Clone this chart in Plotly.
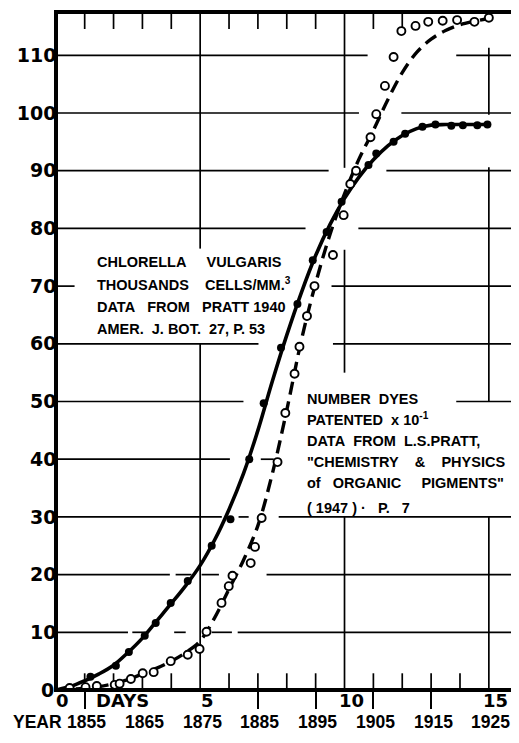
import plotly.graph_objects as go

# chlorella growth (filled dots, solid curve) - x in days, y in thousands cells/mm3
chl_day = [1.2, 2.08, 2.53, 3.08, 3.46, 3.98, 4.57, 5.4, 6.05, 6.7, 7.2, 7.8, 8.37, 8.9,
           9.38, 9.9, 10.83, 11.1, 11.7, 12.1, 12.7, 13.15, 13.7, 14.1, 14.6, 14.95]
chl_val = [2.3, 4.2, 6.6, 9.4, 11.6, 15.1, 18.9, 25, 29.6, 40, 49.7, 59.3, 66.9, 74.5,
           79.4, 84.6, 91, 93, 95, 96.4, 97.6, 98, 97.8, 97.9, 97.9, 98]
chl_curve_day = [0, 0.5, 1, 1.5, 2, 2.5, 3, 3.5, 4, 4.5, 5, 5.5, 6, 6.5, 7, 7.5, 8, 8.5,
                 9, 9.5, 10, 10.5, 11, 11.5, 12, 12.5, 13, 13.5, 14, 14.5, 15]
chl_curve_val = [0, 0.6, 1.6, 2.8, 4.3, 6.5, 9.0, 12.0, 15.0, 18.1, 21.6, 26.0, 31.3, 37.5,
                 45.0, 53.5, 61.5, 68.8, 75.3, 80.7, 85.2, 88.9, 91.9, 94.3, 96.1, 97.3,
                 97.9, 98, 98, 98, 98]

# dyes patented x 1/10 (open circles, dashed curve)
dye_day = [0.48, 1.03, 1.42, 2.04, 2.21, 2.6, 3.01, 3.39, 3.98, 4.57, 4.98, 5.22, 5.74,
           5.99, 6.12, 6.75, 6.9, 7.13, 7.68, 7.95, 8.27, 8.44, 8.7, 8.96, 9.6, 9.97,
           10.2, 10.4, 10.9, 11.1, 11.4, 11.7, 11.97, 12.46, 12.9, 13.4, 13.9, 14.5, 15.0]
dye_val = [0.35, 0.5, 0.7, 0.9, 1.1, 1.9, 2.9, 3.1, 5.0, 6.1, 7.1, 10.1, 15.1, 18.0, 19.8,
           22, 24.8, 29.8, 39.5, 48, 54.8, 59.5, 64.8, 70, 75.4, 82.3, 87.7, 90, 95.8,
           99.8, 104.7, 109.7, 114.2, 115.1, 115.8, 116, 116.1, 115.8, 116.5]
dye_curve_day = [0, 0.5, 1, 1.5, 2, 2.5, 3, 3.5, 4, 4.5, 5, 5.5, 6, 6.5, 7, 7.5, 8, 8.5,
                 9, 9.5, 10, 10.5, 11, 11.5, 12, 12.5, 13, 13.5, 14, 14.5, 14.9]
dye_curve_val = [0, 0.1, 0.3, 0.6, 1.1, 1.8, 2.8, 3.8, 5.0, 6.5, 8.5, 12.5, 17.5, 22.5,
                 28.5, 37.5, 48.5, 60.5, 70.5, 79, 86, 92, 97, 102.3, 107, 110.5, 112.8,
                 114.3, 115.3, 115.9, 116.3]

y_ticks = list(range(10, 120, 10))
day_labels = {0: "0", 5: "5", 10: "10", 15: "15"}
year_days = [1, 3, 5, 7, 9, 11, 13, 15]
year_labels = ["1855", "1865", "1875", "1885", "1895", "1905", "1915", "1925"]

# axis ranges: the heavy frame lines sit centred on day 0 / value 0
X0, X1 = 0.076, 15.94
Y0, Y1 = 0.35, 117.16
INK = "black"


def px(d):
    return (d - X0) / (X1 - X0)


def py(v):
    return (v - Y0) / (Y1 - Y0)


# gridline pieces, broken where the hand drawing left gaps
h_grid = {
    110: [(0, 10.8), (13.87, X1)],
    100: [(0, 10.5), (11.97, X1)],
    90: [(0, 9.45), (11.45, X1)],
    80: [(0, 8.65), (10.48, X1)],
    70: [(0, 0.65), (9.55, X1)],
    60: [(0, 7.02), (9.6, X1)],
    50: [(0, 6.5), (13.87, X1)],
    40: [(0, 6.03), (7.1, 7.55)],
    30: [(0, 5.75), (6.33, 6.68), (7.72, X1)],
    20: [(0, 3.95), (4.15, 4.7), (5.05, 5.65), (7.3, X1)],
    10: [(0, 2.5), (2.65, 3.15), (4.1, 4.5), (5.4, 6.1), (6.3, X1)],
}
v_grid = {
    5: [(0, 60), (76.5, Y1)],
    10: [(0, 30), (55, 76.3), (90.5, Y1)],
    15: [(0, 30), (50, 90.6), (99.7, 111.3)],
}
top_ticks = [1, 2, 3, 4, 6, 7, 8, 9, 11, 12]
bottom_ticks = [1, 2, 3, 4, 6, 7, 8, 9, 11, 12, 13, 14]

fig = go.Figure()
fig.add_trace(go.Scatter(x=chl_curve_day, y=chl_curve_val, mode="lines",
                         line=dict(color=INK, width=3.6, shape="spline"), hoverinfo="skip"))
fig.add_trace(go.Scatter(x=dye_curve_day, y=dye_curve_val, mode="lines",
                         line=dict(color=INK, width=3.4, shape="spline", dash="13px,7px"),
                         hoverinfo="skip"))
fig.add_trace(go.Scatter(x=chl_day, y=chl_val, mode="markers",
                         marker=dict(color=INK, size=8)))
fig.add_trace(go.Scatter(x=dye_day, y=dye_val, mode="markers",
                         marker=dict(color="white", size=8, line=dict(color=INK, width=1.9))))

shapes = []
for yv, spans in h_grid.items():
    for a, b in spans:
        shapes.append(dict(type="line", x0=a, x1=b, y0=yv, y1=yv, layer="below",
                           line=dict(color=INK, width=1.7)))
for xv, spans in v_grid.items():
    for a, b in spans:
        shapes.append(dict(type="line", x0=xv, x1=xv, y0=a, y1=b, layer="below",
                           line=dict(color=INK, width=1.7)))
for d in top_ticks:
    shapes.append(dict(type="line", x0=d, x1=d, y0=Y1, y1=Y1 - 2.6, layer="below",
                       line=dict(color=INK, width=1.7)))
for d in bottom_ticks:
    shapes.append(dict(type="line", x0=d, x1=d, y0=0, y1=2.9, layer="below",
                       line=dict(color=INK, width=1.7)))

lab_font = dict(family="Liberation Sans", size=14.5, color=INK, weight="bold")
sp = "\u00a0"
left_lines = [
    (74.2, f"CHLORELLA{sp * 5}VULGARIS"),
    (70.4, f"THOUSANDS{sp * 4}CELLS/MM.<sup>3</sup>"),
    (66.4, f"DATA{sp * 3}FROM{sp * 3}PRATT{sp}1940"),
    (62.6, f"AMER.{sp * 2}J.{sp}BOT.{sp * 2}27,{sp}P.{sp}53"),
]
right_lines = [
    (50.4, f"NUMBER{sp * 2}DYES"),
    (47.0, f"PATENTED{sp * 2}x{sp}10<sup>-1</sup>"),
    (43.2, f"DATA{sp * 2}FROM{sp * 2}L.S.PRATT,"),
    (39.5, f"\"CHEMISTRY{sp * 4}&{sp * 4}PHYSICS"),
    (35.9, f"of{sp * 3}ORGANIC{sp * 5}PIGMENTS\""),
    (31.5, f"({sp}1947{sp}){sp}·{sp * 3}P.{sp * 3}7"),
]
ann = []
for yv, t in left_lines:
    ann.append(dict(x=1.35, y=yv, xref="x", yref="y", text=t, showarrow=False,
                    xanchor="left", yanchor="middle", font=lab_font))
for yv, t in right_lines:
    ann.append(dict(x=8.62, y=yv, xref="x", yref="y", text=t, showarrow=False,
                    xanchor="left", yanchor="middle", font=lab_font))

tick_font = dict(family="DejaVu Sans", size=19, color=INK, weight="bold")
day_font = dict(family="DejaVu Sans", size=18, color=INK, weight="bold")
year_font = dict(family="Liberation Sans", size=17.5, color=INK, weight="bold")
ann.append(dict(x=0, y=py(0), xref="paper", yref="paper", xshift=-2, text="0",
                showarrow=False, xanchor="right", yanchor="middle", font=tick_font))
for d, t in day_labels.items():
    ann.append(dict(x=px(d), y=0, xref="paper", yref="paper", yshift=-12, xshift=7,
                    text=t, showarrow=False, xanchor="center", yanchor="middle",
                    font=day_font))
ann.append(dict(x=px(2.3), y=0, xref="paper", yref="paper", yshift=-12, text="DAYS",
                showarrow=False, xanchor="center", yanchor="middle", font=day_font))
ann.append(dict(x=px(-0.65), y=0, xref="paper", yref="paper", yshift=-34, text="YEAR",
                showarrow=False, xanchor="center", yanchor="middle", font=year_font))
for d, t in zip(year_days, year_labels):
    ann.append(dict(x=px(d), y=0, xref="paper", yref="paper", yshift=-34, xshift=2,
                    text=t, showarrow=False, xanchor="center", yanchor="middle",
                    font=year_font))

# the page has an 8px body margin, so the figure is 8px smaller than the window
fig.update_layout(
    width=511, height=735,
    margin=dict(l=50, r=3, t=6, b=55),
    paper_bgcolor="white", plot_bgcolor="white",
    showlegend=False,
    shapes=shapes,
    annotations=ann,
    xaxis=dict(range=[X0, X1], showgrid=False, zeroline=False, showline=True,
               linecolor=INK, linewidth=3.5, mirror=True, ticks="outside",
               tickvals=[1, 7, 9, 11, 13], ticklen=17, tickwidth=1.7, tickcolor=INK,
               showticklabels=False, automargin=False),
    yaxis=dict(range=[Y0, Y1], showgrid=False, zeroline=False, showline=True,
               linecolor=INK, linewidth=3.5, mirror=True, ticks="", automargin=False,
               tickvals=y_ticks, ticktext=[str(v) for v in y_ticks],
               ticklabelstandoff=-6, tickfont=tick_font),
)

fig.write_html("out.html")
